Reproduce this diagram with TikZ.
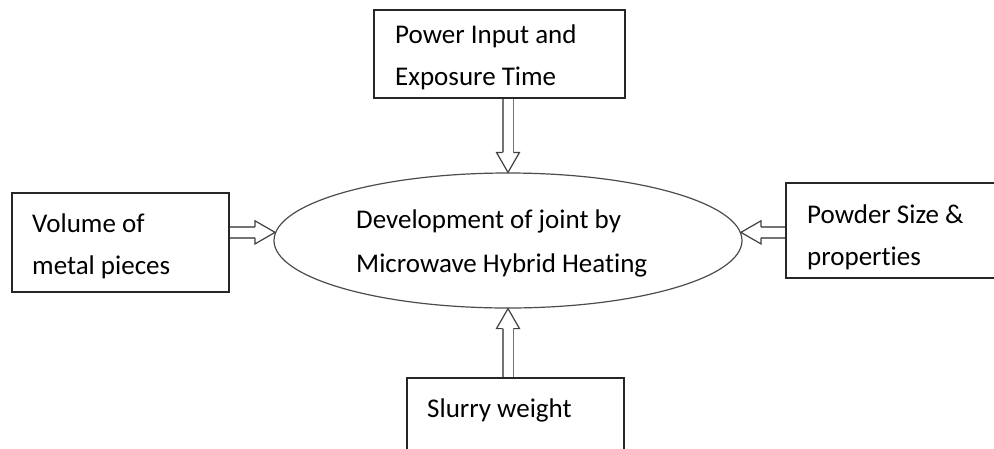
\documentclass[tikz,border=0pt]{standalone}
\usepackage{fontspec}
\setmainfont{Carlito}[Ligatures=CommonOff]
\usetikzlibrary{calc,shapes.geometric}
\tikzset{
  box/.style={draw=black!85, line width=1.4pt, inner sep=0pt, rectangle},
  txt/.style={anchor=north west, inner sep=0pt, align=left, font=\fontsize{27}{42}\selectfont},
  etxt/.style={txt, font=\fontsize{27}{44}\selectfont},
  ellp/.style={draw=black!70, line width=1.2pt, ellipse, inner sep=0pt},
  shaft/.style={draw=black!55, line width=1.8pt, double=white, double distance=9pt},
  head/.style={draw=black!75, line width=1.2pt, fill=white, line join=miter},
}
\newcommand\hollowarrow[2]{%
  \draw[shaft] (#1) -- ($(#2)!19.5pt!(#1)$);
  \draw[head] ($(#2)!20pt!(#1)!5.4pt!90:(#2)$) -- ($(#2)!20pt!(#1)!11.5pt!90:(#2)$)
    -- (#2) -- ($(#2)!20pt!(#1)!11.5pt!-90:(#2)$) -- ($(#2)!20pt!(#1)!5.4pt!-90:(#2)$);
}
\newcommand\firstline{\rule{0pt}{30pt}}
\begin{document}
\begin{tikzpicture}[x=1pt,y=-1pt]
\clip (0,0) rectangle (994,448);
\fill[white] (0,0) rectangle (994,448);
% boxes
\node[box, minimum width=251pt, minimum height=88pt] (top) at (499.5,54) {};
\node[box, minimum width=217pt, minimum height=99pt] (lft) at (120.5,242.5) {};
\node[box, minimum width=224pt, minimum height=95pt] (rgt) at (898,230.5) {};
\node[box, minimum width=217pt, minimum height=102pt] (bot) at (515.5,429) {};
\node[ellp, minimum width=468pt, minimum height=135pt] (ell) at (508,240.5) {};
% texts
\node[txt] (toptext) at (395,13.5) {\firstline Power Input and\\Exposure Time};
\node[txt] (lfttext) at (32,202) {\firstline Volume of\\metal pieces};
\node[txt] (rgttext) at (807,193) {\firstline Powder Size \&\\properties};
\node[txt] (bottext) at (427,387) {\firstline Slurry weight};
\node[etxt] (elltext) at (356,198) {\firstline Development of joint by\\Microwave Hybrid Heating};
% arrow end points
\coordinate (tA) at (ell.north |- top.south);
\coordinate (bA) at (ell.south |- bot.north);
\coordinate (lA) at (lft.east |- ell.178);
\coordinate (rA) at (rgt.west |- ell.2);
\hollowarrow{tA}{ell.north}
\hollowarrow{bA}{ell.south}
\hollowarrow{lA}{ell.178}
\hollowarrow{rA}{ell.2}
\end{tikzpicture}
\end{document}
